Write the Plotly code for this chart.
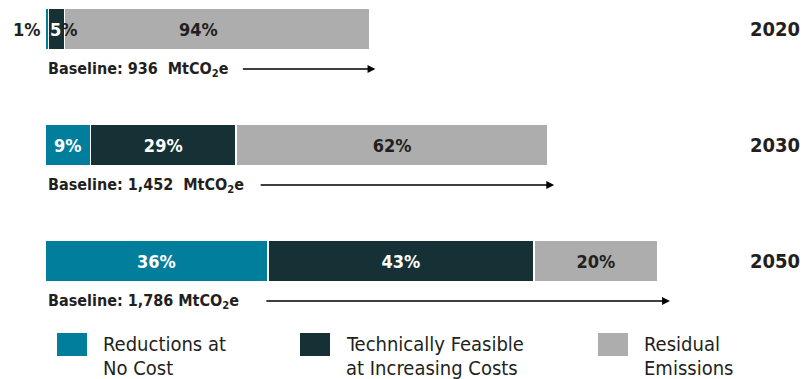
import plotly.graph_objects as go

# Data
years = ['2020', '2030', '2050']
baseline = [936, 1452, 1786]          # MtCO2e
no_cost = [1, 9, 36]                  # % reductions at no cost
feasible = [5, 29, 43]                # % technically feasible at increasing costs
residual = [94, 62, 20]               # % residual emissions
baseline_labels = ['Baseline: 936  MtCO<sub>2</sub>e',
                   'Baseline: 1,452  MtCO<sub>2</sub>e',
                   'Baseline: 1,786 MtCO<sub>2</sub>e']
legend_names = [['Reductions at', 'No Cost'],
                ['Technically Feasible', 'at Increasing Costs'],
                ['Residual', 'Emissions']]

TEAL = '#007E9C'
DARK = '#163135'
GRAY = '#ADADAD'
INK = '#231F20'
FONT = 'DejaVu Sans Condensed, Liberation Sans Narrow, sans-serif'
W, H = 807, 379


def mt(pcts):
    return [b * p / 100 for b, p in zip(baseline, pcts)]


def pct_text(pcts):
    # 2020 labels are placed by hand below
    return ['' if i == 0 else f'{p}%' for i, p in enumerate(pcts)]


fig = go.Figure()
series = [(no_cost, TEAL, 'white'), (feasible, DARK, 'white'), (residual, GRAY, INK)]
for vals, col, tcol in series:
    fig.add_trace(go.Bar(
        y=years, x=mt(vals), orientation='h',
        marker=dict(color=col, line=dict(color='white', width=1.5)),
        text=pct_text(vals), textposition='inside', insidetextanchor='middle',
        textfont=dict(family=FONT, size=18, color=tcol, weight='bold'),
        constraintext='none', showlegend=False, hoverinfo='skip'))

pfont = dict(family=FONT, size=18, color=INK, weight='bold')
ann = []
# 2020 small segments
ann.append(dict(x=0, y=0, xref='x', yref='y', text=f'{no_cost[0]}%',
                showarrow=False, xanchor='right', xshift=-2, font=pfont))
ann.append(dict(x=mt(no_cost)[0], y=0, xref='x', yref='y',
                text=f'<span style="color:white">{feasible[0]}</span>%',
                showarrow=False, xanchor='left', xshift=0, font=pfont))
ann.append(dict(x=baseline[0] / 2, y=0, xref='x', yref='y', text=f'{residual[0]}%',
                showarrow=False, xshift=-9, font=pfont))

arrow_len = [134, 295, 405]
for i, (yr, b, lab, al) in enumerate(zip(years, baseline, baseline_labels, arrow_len)):
    ann.append(dict(x=0, y=i, xref='x', yref='y', text=lab, showarrow=False,
                    xanchor='left', yanchor='middle', xshift=1, yshift=-40,
                    font=dict(family=FONT, size=16, color=INK, weight='bold')))
    ann.append(dict(x=b, y=i, xref='x', yref='y', text='', showarrow=True,
                    axref='pixel', ayref='pixel', ax=-al, ay=0, xshift=6, yshift=-40,
                    arrowhead=2, arrowsize=1.2, arrowwidth=1.3, arrowcolor='#000000'))
    ann.append(dict(x=1, y=i, xref='paper', yref='y', text=yr, showarrow=False,
                    xanchor='right', xshift=-5,
                    font=dict(family=FONT, size=20, color=INK, weight='bold')))

# legend drawn as squares + two-line labels
shapes = []
leg_x = [57, 300, 598]
for (vals, col, tcol), lines, lx in zip(series, legend_names, leg_x):
    shapes.append(dict(type='rect', xref='paper', yref='paper',
                       x0=lx / W, x1=(lx + 30) / W,
                       y0=(H - 356) / H, y1=(H - 333) / H,
                       fillcolor=col, line=dict(width=0)))
    for k, line in enumerate(lines):
        ann.append(dict(x=(lx + 44) / W, y=(H - 344 - 24 * k) / H, xref='paper', yref='paper',
                        text=line, showarrow=False, xanchor='left', yanchor='middle',
                        font=dict(family=FONT, size=20, color=INK)))

fig.update_layout(
    barmode='stack', bargap=0.647,
    width=W, height=H, margin=dict(l=0, r=0, t=0, b=0),
    paper_bgcolor='white', plot_bgcolor='white',
    xaxis=dict(range=[-129.9, 2199.1], visible=False, fixedrange=True),
    yaxis=dict(type='category', categoryorder='array', categoryarray=years,
               range=[3.017, -0.25], visible=False, fixedrange=True),
    annotations=ann, shapes=shapes, showlegend=False)

fig.write_html('out.html', config={'displayModeBar': False},
               post_script="document.body.style.margin='0';")
